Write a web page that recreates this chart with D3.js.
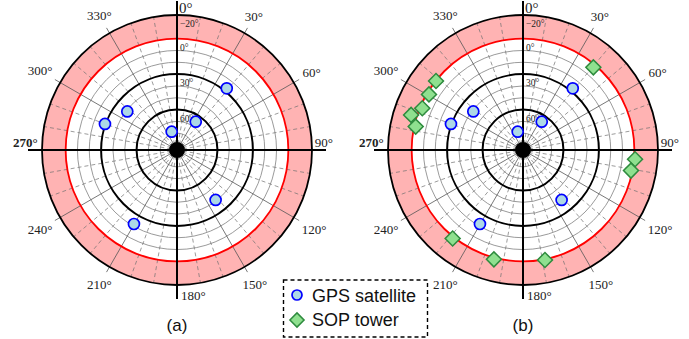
<!DOCTYPE html>
<html><head><meta charset="utf-8">
<script src="https://cdn.jsdelivr.net/npm/d3@7"></script>
<style>body{margin:0;background:#fff}svg{display:block}</style>
</head><body>
<svg id="c" width="689" height="339"></svg>
<script>
// GPS satellites (azimuth deg, elevation deg) - same in (a) and (b)
const gpsAz = [38.9, 307.8, 289.9, 343.8, 33.5, 142.3, 210.2];
const gpsEl = [27.2, 41.0, 29.4, 78.1, 65.5, 40.8, 21.8];
// SOP towers, panel (b) only
const sopAz = [308.4, 300.6, 292.5, 287.4, 282.3, 218.5, 40.4, 94.7, 100.8, 194.9, 168.7];
const sopEl = [0.3, 1.8, 2.0, -5.0, 1.3, -1.4, 2.4, -0.9, 1.2, -1.5, -0.7];
// tick labels
const azTicks = [0, 30, 60, 90, 120, 150, 180, 210, 240, 270, 300, 330];
const elTicks = [-20, 0, 30, 60];
const elRings = [80, 70, 50, 40, 20, 10];
const panelLabels = ["(a)", "(b)"];
const legendLabels = ["GPS satellite", "SOP tower"];

const svg = d3.select("#c");
const R = 135;
const rScale = d3.scaleLinear().domain([90, -20]).range([5, R]);
const aScale = d3.scaleLinear().domain([0, 360]).range([0, 2 * Math.PI]);
const serif = "'Liberation Serif', 'DejaVu Serif', serif";
const sans = "'Liberation Sans', 'DejaVu Sans', sans-serif";

function pt(cx, cy, az, r) {
  const a = aScale(az);
  return [cx + r * Math.sin(a), cy - r * Math.cos(a)];
}

function panel(cx, cy, label, withSop) {
  const g = svg.append("g");
  // pink band
  const arc = d3.arc().innerRadius(rScale(0)).outerRadius(rScale(-20)).startAngle(0).endAngle(2 * Math.PI);
  g.append("path").attr("d", arc()).attr("transform", `translate(${cx},${cy})`).attr("fill", "#ffb3b3");
  // thin rings
  g.selectAll(".ring").data(elRings).enter().append("circle")
    .attr("cx", cx).attr("cy", cy).attr("r", d => rScale(d))
    .attr("fill", "none").attr("stroke", "#808080").attr("stroke-width", 0.8);
  // dashed radial lines every 10 deg
  const dashAz = d3.range(0, 360, 10).filter(d => d % 30 !== 0);
  g.selectAll(".dash").data(dashAz).enter().append("line")
    .each(function (d) {
      const p0 = pt(cx, cy, d, 6), p1 = pt(cx, cy, d, R);
      d3.select(this).attr("x1", p0[0]).attr("y1", p0[1]).attr("x2", p1[0]).attr("y2", p1[1]);
    })
    .attr("stroke", "#707070").attr("stroke-width", 0.7).attr("stroke-dasharray", "4,3");
  // solid thin radial lines at 30 multiples
  const solidAz = azTicks.filter(d => d % 90 !== 0);
  g.selectAll(".sol").data(solidAz).enter().append("line")
    .each(function (d) {
      const p0 = pt(cx, cy, d, 0), p1 = pt(cx, cy, d, R + 6);
      d3.select(this).attr("x1", p0[0]).attr("y1", p0[1]).attr("x2", p1[0]).attr("y2", p1[1]);
    })
    .attr("stroke", "#555").attr("stroke-width", 0.8);
  // bold rings
  g.selectAll(".bring").data([30, 60]).enter().append("circle")
    .attr("cx", cx).attr("cy", cy).attr("r", d => rScale(d))
    .attr("fill", "none").attr("stroke", "#000").attr("stroke-width", 2);
  g.append("circle").attr("cx", cx).attr("cy", cy).attr("r", rScale(0))
    .attr("fill", "none").attr("stroke", "#ff0000").attr("stroke-width", 1.8);
  g.append("circle").attr("cx", cx).attr("cy", cy).attr("r", rScale(-20))
    .attr("fill", "none").attr("stroke", "#000").attr("stroke-width", 1.8);
  // main axes
  g.selectAll(".ax").data([0, 90, 180, 270]).enter().append("line")
    .each(function (d) {
      const p1 = pt(cx, cy, d, R + 14);
      d3.select(this).attr("x1", cx).attr("y1", cy).attr("x2", p1[0]).attr("y2", p1[1]);
    })
    .attr("stroke", "#000").attr("stroke-width", 2);
  // center dot
  g.append("circle").attr("cx", cx).attr("cy", cy).attr("r", 8).attr("fill", "#000");
  // elevation labels
  g.selectAll(".el").data(elTicks).enter().append("text")
    .attr("x", cx + 3).attr("y", d => cy - rScale(d) + 12)
    .attr("font-family", serif).attr("font-size", 9.5).attr("fill", "#222")
    .text(d => (d < 0 ? "\u2212" + (-d) : d) + "\u00b0");
  // azimuth labels
  azTicks.forEach(d => {
    const t = g.append("text").attr("font-family", serif).attr("font-size", 13).attr("fill", "#222")
      .text(d + "\u00b0");
    if (d === 0) {
      t.attr("x", cx + 2).attr("y", cy - 137).attr("font-size", 15);
    } else if (d === 90) {
      t.attr("x", cx + 156).attr("y", cy - 3).attr("text-anchor", "end");
    } else if (d === 180) {
      t.attr("x", cx + 4).attr("y", cy + 150);
    } else if (d === 270) {
      t.attr("x", cx - 164).attr("y", cy - 3).attr("font-weight", "bold");
    } else {
      const w = t.node().getComputedTextLength();
      const a = aScale(d);
      const off = 145 + (w / 2) * Math.abs(Math.sin(a)) + 5 * Math.abs(Math.cos(a));
      const p = pt(cx, cy, d, off);
      t.attr("x", p[0]).attr("y", p[1] + 4.5).attr("text-anchor", "middle");
    }
  });
  // GPS markers
  g.selectAll(".gps").data(d3.range(gpsAz.length)).enter().append("circle")
    .attr("cx", i => pt(cx, cy, gpsAz[i], rScale(gpsEl[i]))[0])
    .attr("cy", i => pt(cx, cy, gpsAz[i], rScale(gpsEl[i]))[1])
    .attr("r", 5.5).attr("fill", "#add8e6").attr("stroke", "#0000ff").attr("stroke-width", 1.7);
  if (withSop) {
    g.selectAll(".sop").data(d3.range(sopAz.length)).enter().append("rect")
      .attr("x", -5.3).attr("y", -5.3).attr("width", 10.6).attr("height", 10.6)
      .attr("transform", i => {
        const p = pt(cx, cy, sopAz[i], rScale(sopEl[i]));
        return `translate(${p[0]},${p[1]}) rotate(45)`;
      })
      .attr("fill", "#8fe08f").attr("stroke", "#2e8b3e").attr("stroke-width", 1.5);
  }
  g.append("text").attr("x", cx).attr("y", 331).attr("text-anchor", "middle")
    .attr("font-family", sans).attr("font-size", 17).attr("fill", "#111").text(label);
}

panel(177, 150, panelLabels[0], false);
panel(523, 150, panelLabels[1], true);

// legend
const lg = svg.append("g");
lg.append("rect").attr("x", 283.5).attr("y", 280).attr("width", 144).attr("height", 57)
  .attr("fill", "#fff").attr("stroke", "#000").attr("stroke-width", 1.4).attr("stroke-dasharray", "4,3");
lg.append("circle").attr("cx", 297).attr("cy", 295).attr("r", 5)
  .attr("fill", "#add8e6").attr("stroke", "#0000ff").attr("stroke-width", 1.7);
lg.append("rect").attr("x", -5).attr("y", -5).attr("width", 10).attr("height", 10)
  .attr("transform", "translate(297,320) rotate(45)")
  .attr("fill", "#8fe08f").attr("stroke", "#2e8b3e").attr("stroke-width", 1.5);
lg.selectAll(".lt").data(legendLabels).enter().append("text")
  .attr("x", 312).attr("y", (d, i) => 302 + i * 24)
  .attr("font-family", sans).attr("font-size", 18).attr("fill", "#111").text(d => d);
</script>
</body></html>
